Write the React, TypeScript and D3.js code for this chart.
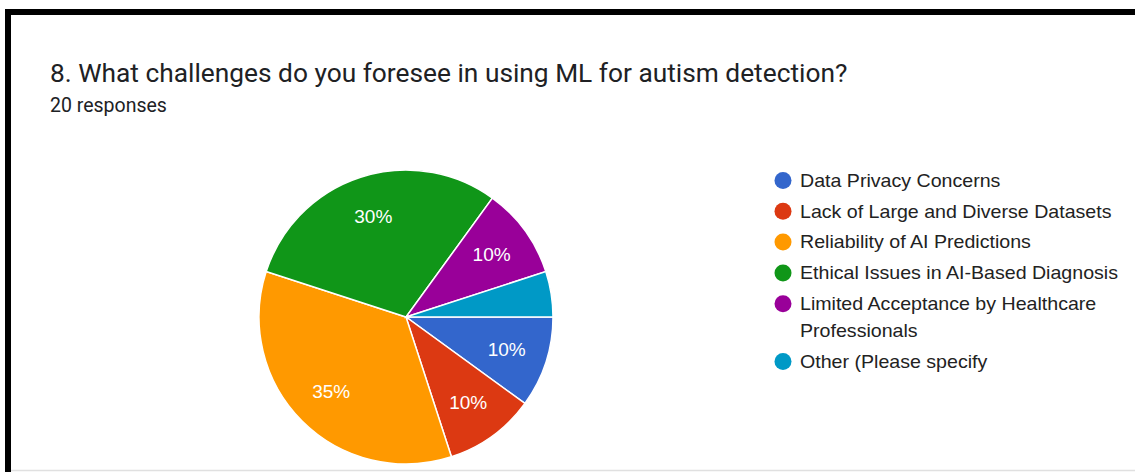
import React from "react";
import * as d3 from "d3";

const W = 1135;
const H = 472;

const title = "8. What challenges do you foresee in using ML for autism detection?";
const subtitle = "20 responses";

const categories = [
  "Data Privacy Concerns",
  "Lack of Large and Diverse Datasets",
  "Reliability of AI Predictions",
  "Ethical Issues in AI-Based Diagnosis",
  "Limited Acceptance by Healthcare Professionals",
  "Other (Please specify",
];
const legendLines = [
  ["Data Privacy Concerns"],
  ["Lack of Large and Diverse Datasets"],
  ["Reliability of AI Predictions"],
  ["Ethical Issues in AI-Based Diagnosis"],
  ["Limited Acceptance by Healthcare", "Professionals"],
  ["Other (Please specify"],
];
const counts = [2, 2, 7, 6, 2, 1];
const colors = ["#3366cc", "#dc3912", "#ff9900", "#109618", "#990099", "#0099c6"];

const TITLE_FONT = "Roboto, Arial, sans-serif";
const FONT = "'Liberation Sans', Arial, sans-serif";

export default function App() {
  const total = d3.sum(counts);
  const cx = 406;
  const cy = 317;
  const r = 147;

  const pie = d3
    .pie<number>()
    .sort(null)
    .value((d) => d)
    .startAngle(Math.PI / 2)
    .endAngle(Math.PI / 2 + 2 * Math.PI);
  const arcs = pie(counts);
  const arcGen = d3.arc<d3.PieArcDatum<number>>().innerRadius(0).outerRadius(r);
  const labelArc = d3
    .arc<d3.PieArcDatum<number>>()
    .innerRadius(r * 0.72)
    .outerRadius(r * 0.72);

  const legendX = 783;
  const legendTextX = 800;
  const legendY0 = 180.5;
  const rowH = 30.8;
  const wrapH = 27;

  let y = legendY0;
  const legendItems = legendLines.map((lines, i) => {
    const item = { lines, y, color: colors[i], key: categories[i] };
    y += rowH + (lines.length - 1) * wrapH;
    return item;
  });

  return (
    <div style={{ position: "fixed", left: 0, top: 0, width: W, height: H, background: "#fff" }}>
      <svg width={W} height={H} style={{ display: "block" }}>
        <rect x={0} y={0} width={W} height={H} fill="#fff" />
        {/* card frame */}
        <rect x={5} y={9} width={6} height={H - 9} fill="#000" />
        <rect x={5} y={9} width={W - 5} height={6} fill="#000" />
        <line x1={11} x2={W} y1={470.5} y2={470.5} stroke="#e0e0e0" strokeWidth={1.5} />

        <text x={50} y={82} fontFamily={TITLE_FONT} fontSize={26.3} fill="#202124">
          {title}
        </text>
        <text x={50} y={112} fontFamily={TITLE_FONT} fontSize={19.5} fill="#202124">
          {subtitle}
        </text>

        <g transform={`translate(${cx},${cy})`}>
          {arcs.map((a, i) => (
            <path key={categories[i]} d={arcGen(a) || ""} fill={colors[i]} stroke="#fff" strokeWidth={1.5} />
          ))}
          {arcs.map((a, i) => {
            const pct = Math.round((a.data / total) * 100);
            if (pct < 8) return null;
            const [lx, ly] = labelArc.centroid(a);
            return (
              <text
                key={"l" + i}
                x={lx}
                y={ly}
                textAnchor="middle"
                dominantBaseline="central"
                fontFamily={FONT}
                fontSize={19}
                fill="#fff"
              >
                {pct}%
              </text>
            );
          })}
        </g>

        {legendItems.map((it) => (
          <g key={it.key}>
            <circle cx={legendX} cy={it.y} r={8.5} fill={it.color} />
            <g transform={`translate(${legendTextX},0) scale(1.06,1)`}>
              {it.lines.map((ln, j) => (
                <text
                  key={j}
                  x={0}
                  y={it.y + j * wrapH}
                  dominantBaseline="central"
                  fontFamily={FONT}
                  fontSize={18.5}
                  fill="#222"
                >
                  {ln}
                </text>
              ))}
            </g>
          </g>
        ))}
      </svg>
    </div>
  );
}
